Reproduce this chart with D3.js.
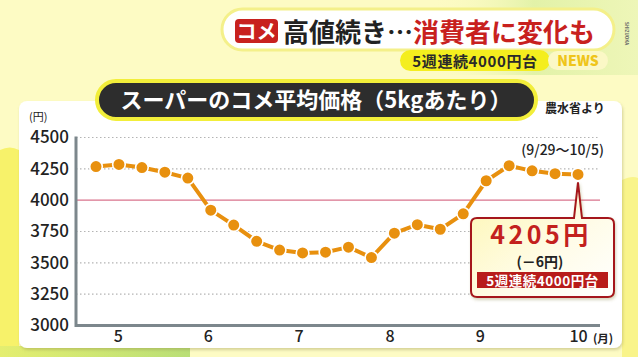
<!DOCTYPE html>
<html><head><meta charset="utf-8">
<script src="https://cdn.jsdelivr.net/npm/d3@7"></script>
<style>
html,body{margin:0;padding:0;background:#fdfbc4;}
svg{display:block;}
text{font-family:"Noto Sans CJK JP","Noto Sans",sans-serif;}
</style></head>
<body>
<svg id="c" width="638" height="357"></svg>
<script>
// ---- data ----
const weeks = ["5/5","5/12","5/19","5/26","6/2","6/9","6/16","6/23","6/30","7/7","7/14","7/21","7/28","8/4","8/11","8/18","8/25","9/1","9/8","9/15","9/22","9/29"];
const prices = [4268,4285,4260,4223,4176,3920,3801,3672,3602,3579,3585,3625,3542,3737,3804,3768,3891,4155,4275,4234,4211,4205];
const yTicks = [3000,3250,3500,3750,4000,4250,4500];
const monthLabels = ["5","6","7","8","9","10"];
const monthTickPos = [0.95,4.87,8.82,12.79,16.72,21]; // week-index position of each month label
const titleText = "スーパーのコメ平均価格（5kgあたり）";
const headlineA = "高値続き…";
const headlineB = "消費者に変化も";
const subHead = "5週連続4000円台";
const lastRange = "(9/29～10/5)";
const calloutPrice = "4205円";
const calloutDiff = "(－6円)";
const calloutBand = "5週連続4000円台";
const source = "農水省より";

const svg = d3.select("#c");
const defs = svg.append("defs");

// ---- background ----
const bgTR = defs.append("linearGradient").attr("id","bgTR").attr("x1","0").attr("x2","1").attr("y1","0").attr("y2","0");
bgTR.append("stop").attr("offset","0").attr("stop-color","#fdfbc4").attr("stop-opacity",0);
bgTR.append("stop").attr("offset","0.5").attr("stop-color","#e2f2a8");
bgTR.append("stop").attr("offset","1").attr("stop-color","#eef6b8");
svg.append("rect").attr("width",638).attr("height",357).attr("fill","#fdfbc4");
svg.append("rect").attr("x",430).attr("y",0).attr("width",208).attr("height",75).attr("fill","url(#bgTR)");
svg.append("path").attr("d","M0,150 Q10,145 19,150 L19,357 L0,357 Z").attr("fill","#f7f26a");
svg.append("path").attr("d","M622,180 Q632,175 638,178 L638,357 L622,357 Z").attr("fill","#f9f48a");
const bgBL = defs.append("linearGradient").attr("id","bgBL").attr("x1","0").attr("x2","1");
bgBL.append("stop").attr("offset","0").attr("stop-color","#e4ee70");
bgBL.append("stop").attr("offset","1").attr("stop-color","#b9df76");
svg.append("rect").attr("x",0).attr("y",346).attr("width",190).attr("height",11).attr("fill","url(#bgBL)");

// ---- panel ----
const sh = defs.append("filter").attr("id","sh").attr("x","-5%").attr("y","-5%").attr("width","110%").attr("height","115%");
sh.append("feDropShadow").attr("dx",1).attr("dy",2).attr("stdDeviation",1.5).attr("flood-color","#8a8640").attr("flood-opacity",0.35);
svg.append("rect").attr("x",19).attr("y",101).attr("width",603).attr("height",247).attr("rx",8)
  .attr("fill","#ffffff").attr("filter","url(#sh)");

// ---- header ----
svg.append("rect").attr("x",222).attr("y",9).attr("width",392).attr("height",41).attr("rx",20.5)
  .attr("fill","#ffffff").attr("stroke","#f4f08a").attr("stroke-width",3);
svg.append("rect").attr("x",235).attr("y",19).attr("width",43).attr("height",24).attr("rx",4).attr("fill","#c8211e");
svg.append("text").attr("x",256.5).attr("y",38.5).attr("text-anchor","middle").attr("fill","#fff")
  .attr("font-size",20).attr("font-weight",700).text("コメ");
const hl = svg.append("text").attr("x",283).attr("y",42).attr("font-size",26).attr("font-weight",700);
hl.append("tspan").attr("fill","#222").text(headlineA);
hl.append("tspan").attr("fill","#c8211e").text(headlineB);
svg.append("text").attr("x",625).attr("y",22).attr("transform","rotate(90,625,22)").attr("font-size",4.5)
  .attr("fill","#666").attr("font-weight",700).text("SHIZUOKA");
svg.append("rect").attr("x",400).attr("y",50).attr("width",150).attr("height",21).attr("rx",10.5).attr("fill","#f4ee1e");
svg.append("text").attr("x",475).attr("y",66.5).attr("text-anchor","middle").attr("font-size",15).attr("font-weight",700)
  .attr("letter-spacing",0.6).attr("fill","#2a2a2a").text(subHead);
svg.append("rect").attr("x",548).attr("y",51).attr("width",60).attr("height",19).attr("rx",9.5).attr("fill","#fbf8c6");
svg.append("text").attr("x",578).attr("y",66).attr("text-anchor","middle").attr("font-size",14).attr("font-weight",900)
  .attr("fill","#efc51a").attr("font-family","Roboto, sans-serif").text("NEWS");

// ---- title pill ----
svg.append("rect").attr("x",97).attr("y",81).attr("width",439).attr("height",38).attr("rx",19)
  .attr("fill","#2d2d2d").attr("stroke","#f2ee3a").attr("stroke-width",4);
svg.append("text").attr("x",316).attr("y",108).attr("text-anchor","middle").attr("fill","#fff")
  .attr("font-size",22).attr("font-weight",700).text(titleText);
svg.append("text").attr("x",545).attr("y",113).attr("font-size",12).attr("font-weight",700).attr("fill","#222").text(source);

// ---- scales ----
const x = d3.scaleLinear().domain([0, prices.length-1]).range([96, 578]);
const y = d3.scaleLinear().domain([3000,4500]).range([325.5,137.5]);
const xL = 76, xR = 600;

// grid
const grid = svg.append("g");
grid.selectAll("line").data(yTicks.filter(v => v !== 3000)).join("line")
  .attr("x1", xL).attr("x2", xR).attr("y1", d => y(d)).attr("y2", d => y(d))
  .attr("stroke", d => d === 4000 ? "#d9738c" : "#b4b4b4")
  .attr("stroke-width", 1.2)
  .attr("stroke-dasharray", d => d === 4000 ? null : "1.5,2.5");

// y axis
const yAxis = svg.append("g").attr("transform",`translate(${xL},0)`)
  .call(d3.axisLeft(y).tickValues(yTicks).tickSize(0).tickPadding(7).tickFormat(d3.format("d")));
yAxis.select(".domain").remove();
yAxis.selectAll("text").attr("font-size",17).attr("font-weight",500).attr("fill","#222")
  .attr("font-family","'Noto Sans', sans-serif");
svg.append("text").attr("x",29).attr("y",121).attr("font-size",11).attr("fill","#222").text("(円)");

// x axis
const xAxis = svg.append("g").attr("transform",`translate(0,${y(3000)})`)
  .call(d3.axisBottom(x).tickValues(monthTickPos).tickSize(0).tickPadding(5)
    .tickFormat((d,i) => monthLabels[i]));
xAxis.select(".domain").remove();
xAxis.selectAll("text").attr("font-size",16).attr("font-weight",500).attr("fill","#222")
  .attr("font-family","'Noto Sans', sans-serif");
svg.append("text").attr("x",593).attr("y",343).attr("font-size",11.5).attr("font-weight",700).attr("fill","#222").text("(月)");

// axis lines
svg.append("path").attr("d",`M${xL},${y(4500)-1}V${y(3000)}H${xR}`)
  .attr("fill","none").attr("stroke","#7c878c").attr("stroke-width",3);

// line
const line = d3.line().x((d,i) => x(i)).y(d => y(d));
svg.append("path").datum(prices).attr("d", line).attr("fill","none")
  .attr("stroke","#e8900e").attr("stroke-width",4).attr("stroke-linejoin","round");
svg.append("g").selectAll("circle").data(prices).join("circle")
  .attr("cx",(d,i)=>x(i)).attr("cy",d=>y(d)).attr("r",6.3)
  .attr("fill","#e8900e").attr("stroke","#ffffff").attr("stroke-width",1.6);

svg.append("text").attr("x",x(prices.length-1)+26).attr("y",155).attr("text-anchor","end")
  .attr("font-size",14).attr("font-weight",500).attr("fill","#222").text(lastRange);

// callout
const cg = defs.append("linearGradient").attr("id","cg").attr("x1","0").attr("x2","1").attr("y1","0").attr("y2","1");
cg.append("stop").attr("offset","0").attr("stop-color","#fdf6b0");
cg.append("stop").attr("offset","0.6").attr("stop-color","#fffce8");
cg.append("stop").attr("offset","1").attr("stop-color","#ffffff");
const px = x(prices.length-1), py = y(prices[prices.length-1]);
const bx0 = 471, bx1 = 614, by0 = 218, by1 = 297, r = 6;
svg.append("path").attr("d",
  `M${bx0+r},${by0} H${px-4} L${px},${py+8} L${px+4},${by0} H${bx1-r} Q${bx1},${by0} ${bx1},${by0+r} V${by1-r} Q${bx1},${by1} ${bx1-r},${by1} H${bx0+r} Q${bx0},${by1} ${bx0},${by1-r} V${by0+r} Q${bx0},${by0} ${bx0+r},${by0} Z`)
  .attr("fill","url(#cg)").attr("stroke","#a5161a").attr("stroke-width",2).attr("filter","url(#sh)");
svg.append("text").attr("x",541).attr("y",243.5).attr("text-anchor","middle").attr("font-size",25).attr("font-weight",700)
  .attr("letter-spacing",3.5).attr("fill","#c3211d").text(calloutPrice);
svg.append("text").attr("x",540).attr("y",266.5).attr("text-anchor","middle").attr("font-size",14).attr("font-weight",700)
  .attr("fill","#222").text(calloutDiff);
svg.append("rect").attr("x",477).attr("y",272).attr("width",131).attr("height",16).attr("fill","#b81c1a");
svg.append("text").attr("x",542.5).attr("y",285.5).attr("text-anchor","middle").attr("font-size",13.5).attr("font-weight",700)
  .attr("letter-spacing",0.5).attr("fill","#fff").text(calloutBand);
</script>
</body></html>
